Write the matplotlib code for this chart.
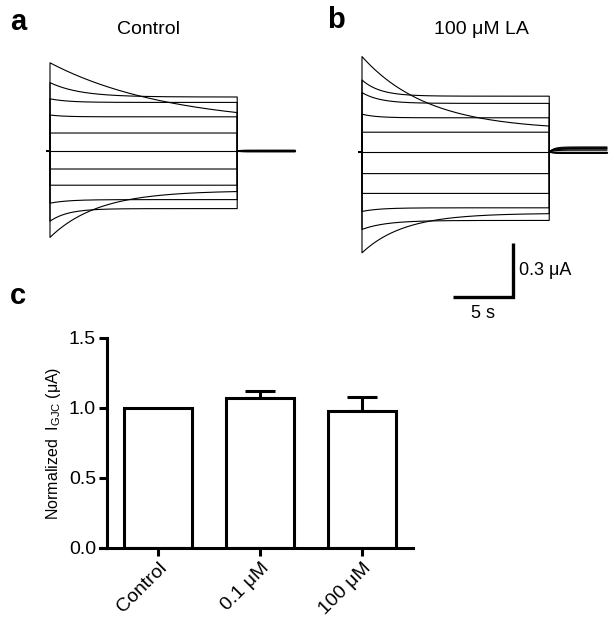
import numpy as np
import matplotlib.pyplot as plt

plt.rcParams['font.family'] = ['Liberation Sans', 'DejaVu Sans']
plt.rcParams['mathtext.default'] = 'regular'

# ---- 电流轨迹数据 (μA)：起始峰值、稳态值、衰减时间常数 (s)、尾电流 ----
pulse_len = 15.6
tail_len = 4.8

peak_a = [0.49, 0.38, 0.29, 0.20, 0.10, 0.0, -0.10, -0.19, -0.29, -0.39, -0.48]
steady_a = [0.14, 0.30, 0.27, 0.19, 0.10, 0.0, -0.10, -0.19, -0.27, -0.32, -0.22]
tau_a = [10.0, 2.5, 1.5, 1.2, 1.0, 1.0, 1.0, 1.2, 1.5, 1.5, 4.0]
tail_a = [0.004, 0.003, 0.003, 0.002, 0.001, 0.0, -0.001, -0.002, -0.003, -0.003, -0.004]

peak_b = [0.53, 0.40, 0.33, 0.21, 0.11, 0.0, -0.12, -0.23, -0.33, -0.43, -0.56]
steady_b = [0.12, 0.31, 0.27, 0.19, 0.11, 0.0, -0.12, -0.23, -0.31, -0.38, -0.34]
tau_b = [5.5, 1.5, 1.5, 1.2, 1.0, 1.0, 1.0, 1.0, 1.5, 2.0, 3.5]
tail_b = [0.028, 0.024, 0.020, 0.016, 0.010, 0.0, -0.002, -0.004, -0.006, -0.007, -0.008]

# ---- 柱状图数据 ----
groups = ['Control', '0.1 μM', '100 μM']
means = [1.0, 1.07, 0.98]
sems = [0.0, 0.05, 0.10]


def draw_traces(ax, peaks, steadies, taus, tails, tail_tau):
    t_on = np.linspace(0, pulse_len, 300)
    t_off = np.linspace(pulse_len, pulse_len + tail_len, 100)
    for p, s, tau, tl in zip(peaks, steadies, taus, tails):
        i_on = s + (p - s) * np.exp(-t_on / tau)
        i_off = tl * (1 - np.exp(-(t_off - pulse_len) / tail_tau))
        x = np.concatenate([[-0.25, 0], t_on, t_off])
        y = np.concatenate([[0, 0], i_on, i_off])
        ax.plot(x, y, color='black', lw=0.8)
    ax.axis('off')


fig = plt.figure(figsize=(6.14, 6.25), dpi=100)
W, H = 614, 625

# 面板 a
ax_a = fig.add_axes([40 / W, 1 - 250 / H, 262 / W, 205 / H])
draw_traces(ax_a, peak_a, steady_a, tau_a, tail_a, 0.2)
ax_a.set_xlim(-0.833, 21.0)
ax_a.set_ylim(-0.55, 0.589)

# 面板 b
ax_b = fig.add_axes([350 / W, 1 - 320 / H, 262 / W, 280 / H])
draw_traces(ax_b, peak_b, steady_b, tau_b, tail_b, 0.4)
ax_b.set_xlim(-1.0, 20.83)
ax_b.set_ylim(-0.933, 0.622)

# 标尺 5 s / 0.3 μA
ax_b.plot([7.58, 12.58, 12.58], [-0.806, -0.806, -0.506], color='black', lw=2.4,
          solid_joinstyle='miter', solid_capstyle='butt')
ax_b.text(13.1, -0.656, '0.3 μA', fontsize=13, va='center', ha='left')
ax_b.text(10.1, -0.85, '5 s', fontsize=13, va='top', ha='center')

fig.text(10 / W, 1 - 22 / H, 'a', fontsize=21, fontweight='bold', va='center')
fig.text(327 / W, 1 - 20 / H, 'b', fontsize=21, fontweight='bold', va='center')
fig.text(10 / W, 1 - 296 / H, 'c', fontsize=21, fontweight='bold', va='center')
fig.text(149 / W, 1 - 29 / H, 'Control', fontsize=14, ha='center', va='center')
fig.text(481 / W, 1 - 29 / H, '100 μM LA', fontsize=14, ha='center', va='center')

# 面板 c：柱状图
ax_c = fig.add_axes([100 / W, 1 - 548 / H, 313 / W, 210 / H])
xpos = np.arange(len(groups))
ax_c.bar(xpos, means, width=0.66, color='white', edgecolor='black', linewidth=2.2, zorder=2)
ax_c.errorbar(xpos[1:], means[1:], yerr=[np.zeros(len(sems) - 1), sems[1:]], fmt='none',
              ecolor='black', elinewidth=2.2, capsize=11, capthick=2.2, zorder=1)
ax_c.set_xlim(-0.57, 2.5)
ax_c.set_ylim(0, 1.5)
ax_c.spines['top'].set_visible(False)
ax_c.spines['right'].set_visible(False)
ax_c.spines['left'].set_position(('data', -0.5))
ax_c.spines['left'].set_linewidth(2.2)
ax_c.spines['bottom'].set_linewidth(2.2)
ax_c.set_yticks([0.0, 0.5, 1.0, 1.5])
ax_c.set_yticklabels(['0.0', '0.5', '1.0', '1.5'], fontsize=14)
ax_c.set_xticks(xpos)
ax_c.set_xticklabels(groups, fontsize=14, rotation=45, ha='right', rotation_mode='anchor')
ax_c.tick_params(axis='both', width=2.2, length=6, direction='out', pad=2)
ax_c.set_ylabel('Normalized  I$_{GJC}$ (μA)', fontsize=11.5, labelpad=4)

fig.savefig('out.png', dpi=100)
